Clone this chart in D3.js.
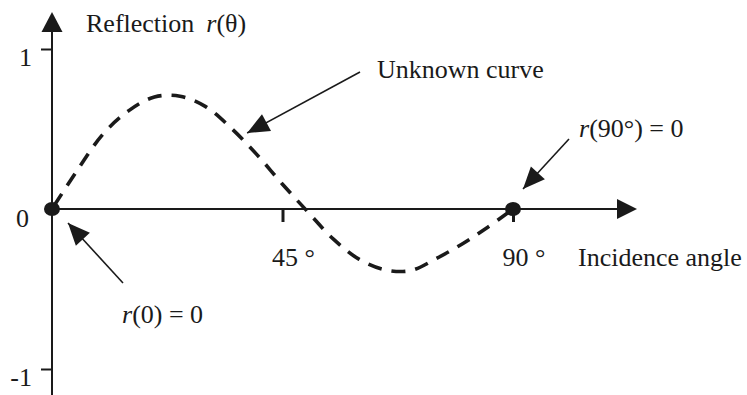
<!DOCTYPE html>
<html>
<head>
<meta charset="utf-8">
<script src="https://cdn.jsdelivr.net/npm/d3@7"></script>
<style>
  html, body { margin: 0; padding: 0; background: #fff; }
  svg { display: block; }
  text { font-family: "Liberation Serif", "Times New Roman", serif; font-size: 26px; fill: #1a1a1a; }
</style>
</head>
<body>
<svg id="chart" width="747" height="395"></svg>
<script>
// Incidence angle (degrees) and the sketched reflection coefficient r(θ)
const angles = [0, 5, 10, 15, 20, 25, 30, 35, 40, 45, 50, 55, 60, 65, 70, 75, 80, 85, 90];
const reflection = [0, 0.245, 0.47, 0.615, 0.70, 0.705, 0.64, 0.505, 0.34, 0.155, -0.02, -0.19, -0.315, -0.38, -0.385, -0.31, -0.22, -0.115, 0];

// Axis ticks and labels
const xTicks = [45, 90];
const xTickLabels = ["45 °", "90 °"];
const yTicks = [1, -1];
const yTickLabels = ["1", "-1"];

// Known end-point values
const knownAngles = [0, 90];
const knownValues = [0, 0];

const ink = "#1a1a1a";
const svg = d3.select("#chart");

const x = d3.scaleLinear().domain([0, 90]).range([52, 513]);
const y = d3.scaleLinear().domain([-1, 1]).range([369, 49]);

const x0 = x(0), y0 = y(0);

// arrow head helper: filled triangle pointing at (tx, ty) coming from (sx, sy)
function arrowHead(g, sx, sy, tx, ty, len, half) {
  const dx = tx - sx, dy = ty - sy, L = Math.hypot(dx, dy);
  const ux = dx / L, uy = dy / L;
  const bx = tx - ux * len, by = ty - uy * len;
  const px = -uy, py = ux;
  g.append("path")
    .attr("d", `M${tx},${ty}L${bx + px * half},${by + py * half}L${bx - px * half},${by - py * half}Z`)
    .attr("fill", ink);
}

// vertical axis (runs off the bottom)
svg.append("line").attr("x1", x0).attr("x2", x0).attr("y1", 30).attr("y2", 395)
  .attr("stroke", ink).attr("stroke-width", 2);
arrowHead(svg, x0, 60, x0, 12, 20, 10.5);

// horizontal axis
svg.append("line").attr("x1", x0).attr("x2", 620).attr("y1", y0).attr("y2", y0)
  .attr("stroke", ink).attr("stroke-width", 2);
arrowHead(svg, 600, y0, 637, y0, 20, 10);

// y ticks
const yAxis = d3.axisLeft(y).tickValues(yTicks).tickSize(11)
  .tickFormat((d, i) => yTickLabels[i]);
const yg = svg.append("g").attr("transform", `translate(${x0},0)`).call(yAxis);
yg.select(".domain").remove();
yg.selectAll(".tick line").attr("stroke", ink).attr("stroke-width", 2);
yg.selectAll(".tick text").attr("font-size", 26).attr("font-family", "Liberation Serif")
  .attr("fill", ink).attr("x", -20).attr("dy", "0.62em").attr("text-anchor", "end");

// zero label sits just below the horizontal axis
svg.append("text").attr("x", x0 - 36).attr("y", y0 + 18).text("0");

// x ticks
const xAxis = d3.axisBottom(x).tickValues(xTicks).tickSize(13)
  .tickFormat((d, i) => xTickLabels[i]);
const xg = svg.append("g").attr("transform", `translate(0,${y0})`).call(xAxis);
xg.select(".domain").remove();
xg.selectAll(".tick line").attr("stroke", ink).attr("stroke-width", 3);
xg.selectAll(".tick text").attr("font-size", 26).attr("font-family", "Liberation Serif")
  .attr("fill", ink).attr("text-anchor", "start").attr("x", -11).attr("y", 57).attr("dy", 0);

// axis titles
const yTitle = svg.append("text").attr("x", 86).attr("y", 32);
yTitle.append("tspan").text("Reflection");
yTitle.append("tspan").attr("dx", 12).attr("font-style", "italic").text("r");
yTitle.append("tspan").text("(θ)");

svg.append("text").attr("x", 578).attr("y", 266).text("Incidence angle");

// the unknown curve
const line = d3.line()
  .x((d, i) => x(angles[i]))
  .y(d => y(d))
  .curve(d3.curveCatmullRom.alpha(0.5));

svg.append("path")
  .datum(reflection)
  .attr("d", line)
  .attr("fill", "none")
  .attr("stroke", ink)
  .attr("stroke-width", 3.6)
  .attr("stroke-dasharray", "14,10")
  .attr("stroke-dashoffset", -4);

// known end points
svg.selectAll("ellipse.known")
  .data(knownAngles)
  .join("ellipse")
  .attr("class", "known")
  .attr("cx", d => x(d))
  .attr("cy", (d, i) => y(knownValues[i]))
  .attr("rx", 8)
  .attr("ry", 7)
  .attr("fill", ink);

// annotations
function annotate(sx, sy, tx, ty) {
  svg.append("line").attr("x1", sx).attr("y1", sy).attr("x2", tx).attr("y2", ty)
    .attr("stroke", ink).attr("stroke-width", 1.6);
  arrowHead(svg, sx, sy, tx, ty, 22, 9.5);
}

// "Unknown curve"
svg.append("text").attr("x", 377).attr("y", 78).text("Unknown curve");
annotate(360, 72, x(38.1), y(0.475));

// r(90°) = 0
const t90 = svg.append("text").attr("x", 579).attr("y", 137);
t90.append("tspan").attr("font-style", "italic").text("r");
t90.append("tspan").text("(90°) = 0");
annotate(569, 139, x(90) + 10, y0 - 20);

// r(0) = 0
const t0 = svg.append("text").attr("x", 122).attr("y", 323);
t0.append("tspan").attr("font-style", "italic").text("r");
t0.append("tspan").text("(0) = 0");
annotate(123, 283, x0 + 16, y0 + 14);
</script>
</body>
</html>
